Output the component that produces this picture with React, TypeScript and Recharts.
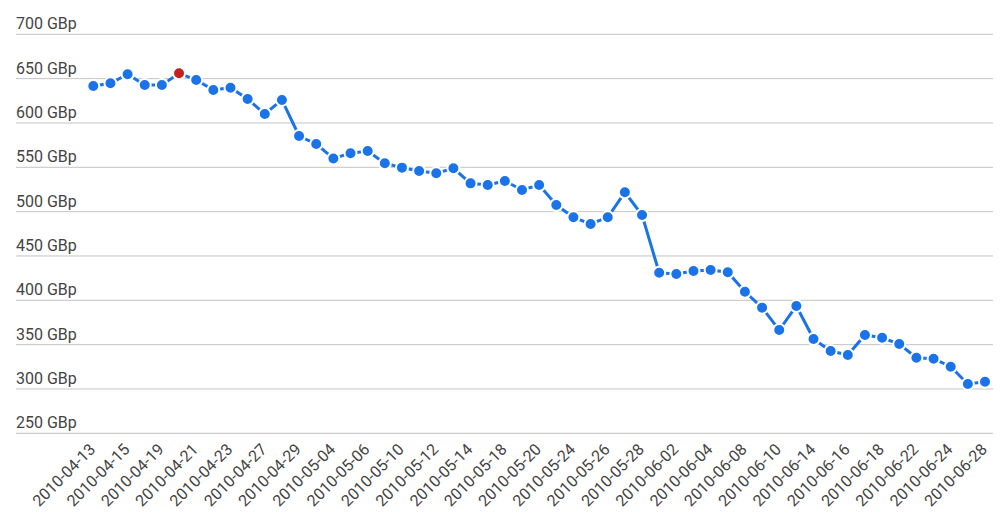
import React from 'react';
import { LineChart, Line, XAxis, YAxis, CartesianGrid } from 'recharts';

const dates = [
  '2010-04-13', '2010-04-14', '2010-04-15', '2010-04-16', '2010-04-19', '2010-04-20',
  '2010-04-21', '2010-04-22', '2010-04-23', '2010-04-26', '2010-04-27', '2010-04-28',
  '2010-04-29', '2010-04-30', '2010-05-04', '2010-05-05', '2010-05-06', '2010-05-07',
  '2010-05-10', '2010-05-11', '2010-05-12', '2010-05-13', '2010-05-14', '2010-05-17',
  '2010-05-18', '2010-05-19', '2010-05-20', '2010-05-21', '2010-05-24', '2010-05-25',
  '2010-05-26', '2010-05-27', '2010-05-28', '2010-06-01', '2010-06-02', '2010-06-03',
  '2010-06-04', '2010-06-07', '2010-06-08', '2010-06-09', '2010-06-10', '2010-06-11',
  '2010-06-14', '2010-06-15', '2010-06-16', '2010-06-17', '2010-06-18', '2010-06-21',
  '2010-06-22', '2010-06-23', '2010-06-24', '2010-06-25', '2010-06-28',
];

const prices = [
  641.7, 644.7, 654.9, 642.8, 642.8, 656.0, 648.5, 637.2, 639.8, 627.0, 610.1, 626.0,
  585.3, 576.3, 560.0, 565.8, 568.4, 554.5, 549.6, 545.8, 543.2, 548.9, 531.9, 530.0,
  534.6, 524.4, 530.0, 507.5, 493.6, 486.1, 493.6, 521.8, 496.2, 431.1, 429.7, 433.1,
  434.2, 431.6, 409.7, 391.7, 366.5, 393.6, 356.4, 342.8, 338.3, 360.9, 357.8, 350.7,
  335.3, 334.1, 325.1, 305.6, 308.2,
];

const yTicks = [250, 300, 350, 400, 450, 500, 550, 600, 650, 700];

const data = dates.map((date, i) => ({ date, price: prices[i] }));
const maxPrice = Math.max(...prices);

const BLUE = '#1a73e8';
const RED = '#c5221f';
const TEXT = '#444444';
const FONT = 'Roboto, sans-serif';

// y labels sit just above their gridline, flush left
const YTick = (props: any) => {
  const { y, payload } = props;
  return (
    <text x={16} y={y - 5} fill={TEXT} fontSize={16} fontFamily={FONT} textAnchor="start">
      {payload.value} GBp
    </text>
  );
};

const XTick = (props: any) => {
  const { x, y, payload } = props;
  return (
    <g transform={`translate(${x + 3},${y + 17})`}>
      <text transform="rotate(-45)" textAnchor="end" fill={TEXT} fontSize={16} fontFamily={FONT}>
        {payload.value}
      </text>
    </g>
  );
};

const Dot = (props: any) => {
  const { cx, cy, payload, index } = props;
  const fill = payload.price === maxPrice ? RED : BLUE;
  return <circle key={index} cx={cx} cy={cy} r={6} fill={fill} stroke="#fff" strokeWidth={2} />;
};

export default function App() {
  return (
    <div style={{ position: 'absolute', left: 0, top: 0, background: '#fff' }}>
      <LineChart width={1007} height={522} data={data} margin={{ top: 34.3, right: 14, bottom: 0, left: 0 }}>
        <CartesianGrid vertical={false} stroke="#c4c4c4" />
        <XAxis
          dataKey="date"
          interval={1}
          axisLine={false}
          tickLine={false}
          tickSize={0}
          tickMargin={0}
          height={88.7}
          padding={{ left: 77.3, right: 8 }}
          tick={<XTick />}
        />
        <YAxis
          domain={[250, 700]}
          ticks={yTicks}
          interval={0}
          width={16}
          axisLine={false}
          tickLine={false}
          tick={<YTick />}
        />
        <Line
          type="linear"
          dataKey="price"
          stroke={BLUE}
          strokeWidth={3}
          dot={<Dot />}
          activeDot={false}
          isAnimationActive={false}
        />
      </LineChart>
    </div>
  );
}
